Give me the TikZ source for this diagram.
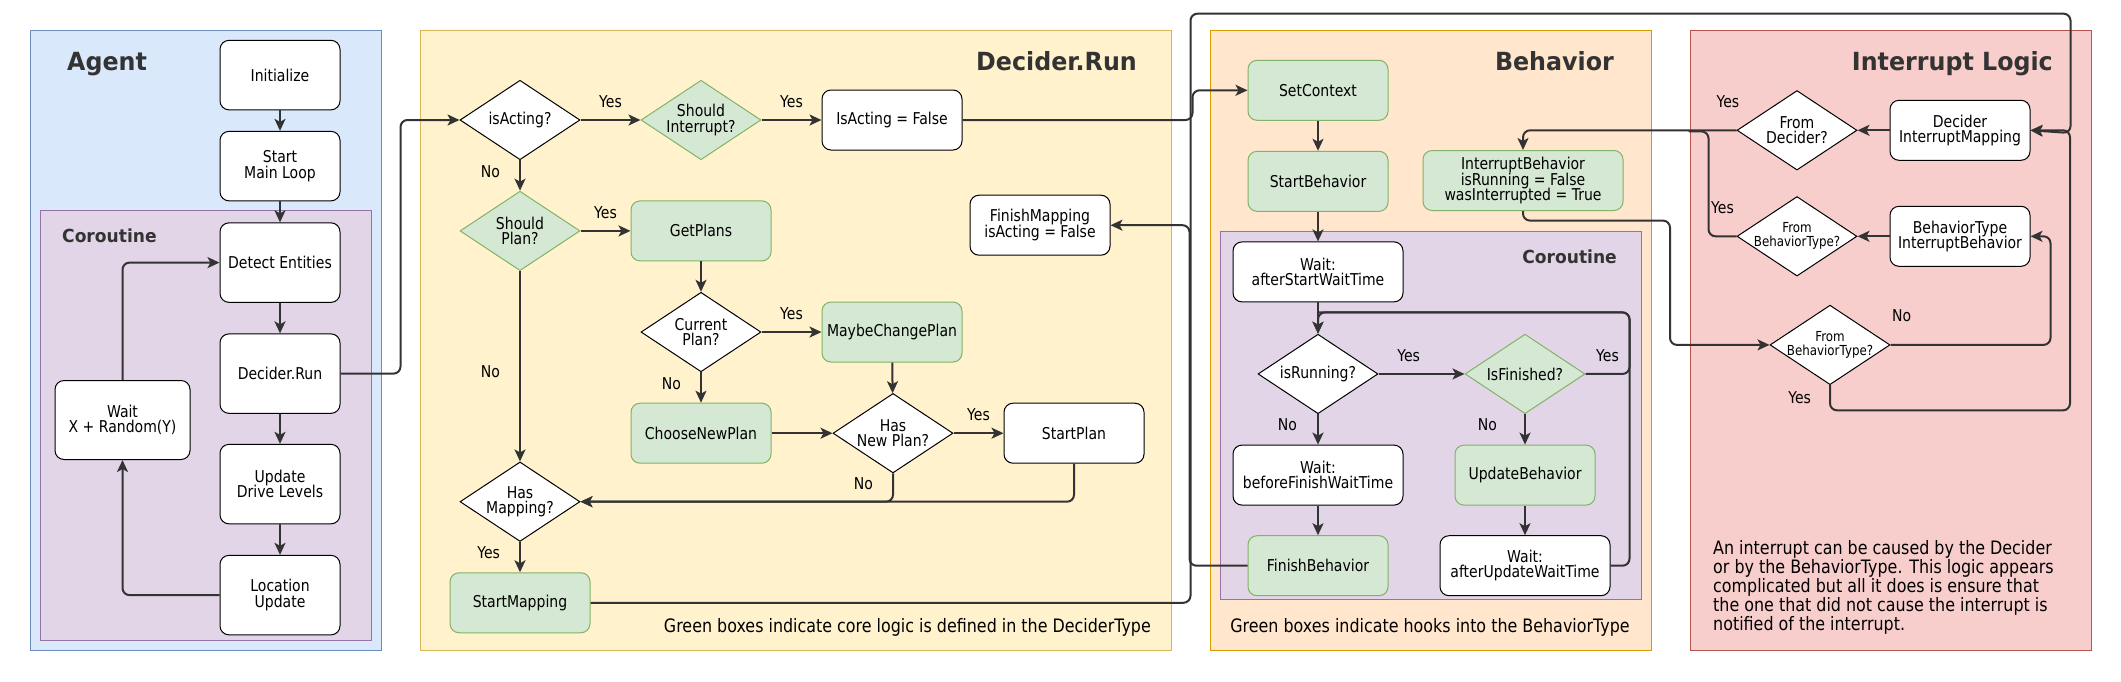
\documentclass[tikz,border=0pt]{standalone}
\usepackage{fontspec}
\setmainfont{DejaVu Sans}[FakeStretch=0.86]
\newfontfamily\headfont{DejaVu Sans}[FakeStretch=0.95]
\usepackage{tikz}
\usetikzlibrary{positioning,shapes.geometric,arrows.meta}
\definecolor{agentfill}{HTML}{DAE8FC}
\definecolor{agentline}{HTML}{6C8EBF}
\definecolor{corofill}{HTML}{E1D5E7}
\definecolor{coroline}{HTML}{9673A6}
\definecolor{decfill}{HTML}{FFF2CC}
\definecolor{decline}{HTML}{D6B656}
\definecolor{behfill}{HTML}{FFE6CC}
\definecolor{behline}{HTML}{D79B00}
\definecolor{intfill}{HTML}{F8CECC}
\definecolor{intline}{HTML}{B85450}
\definecolor{corefill}{HTML}{D5E8D4}
\definecolor{coreline}{HTML}{82B366}
\definecolor{ink}{HTML}{333333}
\setlength{\lineskiplimit}{-20pt}

\begin{document}
\begin{tikzpicture}[x=1pt, y=-1pt,
		every node/.style={font=\fontsize{16.3}{15.5}\selectfont},
		panel/.style={line width=1pt},
		box/.style={rectangle, draw=black, fill=white, line width=1pt, rounded corners=9pt, minimum width=140pt, minimum height=60pt, align=center},
		abox/.style={box, minimum width=120pt, minimum height=79.5pt},
		core/.style={box, draw=coreline, fill=corefill},
		test/.style={diamond, draw=black, fill=white, line width=1pt, shape aspect=1.5, inner sep=-2pt, minimum width=120pt, minimum height=79.5pt, align=center},
		coretest/.style={test, draw=coreline, fill=corefill},
		small/.style={font=\fontsize{13.8}{14}\selectfont},
		flow/.style={draw=ink, line width=2pt, rounded corners=7pt, -{Stealth[length=12pt, width=11pt, inset=3pt]}},
		wire/.style={draw=ink, line width=2pt, rounded corners=7pt},
		lbl/.style={inner sep=1pt},
		title/.style={font=\headfont\bfseries\fontsize{25}{25}\selectfont, text=ink, inner sep=0pt},
		subtitle/.style={font=\headfont\bfseries\fontsize{18}{18}\selectfont, text=ink, inner sep=0pt},
		note/.style={font=\fontsize{18.5}{19.1}\selectfont, inner sep=0pt, align=left}]
	\useasboundingbox (0,0) rectangle (2121,681);
	\draw[panel, draw=agentline, fill=agentfill] (30,30.4) rectangle (381,650);
	\draw[panel, draw=coroline, fill=corofill] (40,210.6) rectangle (371,640.6);
	\draw[panel, draw=decline, fill=decfill] (420,30.4) rectangle (1171,650);
	\draw[panel, draw=behline, fill=behfill] (1210,30.4) rectangle (1651,650);
	\draw[panel, draw=coroline, fill=corofill] (1220,231.5) rectangle (1641,599.3);
	\draw[panel, draw=intline, fill=intfill] (1690,30.4) rectangle (2091,650);

	\node[title, anchor=base west] (agentT) at (67,70) {Agent};
	\node[subtitle, anchor=base west] (coroA) at (62,242) {Coroutine};
	\node[title, anchor=base east] (decT) at (1137,70) {Decider.Run};
	\node[title, anchor=base east] (behT) at (1614,70) {Behavior};
	\node[subtitle, anchor=base east] (coroB) at (1617,263.7) {Coroutine};
	\node[title, anchor=base east] (intT) at (2053,70) {Interrupt Logic};

	\node[abox, minimum height=69.5pt] (init) at (280,75.1) {Initialize};
	\node[abox, minimum height=69.5pt, below=20.5pt of init] (mainloop) {Start\\Main Loop};
	\node[abox, below=21pt of mainloop] (detect) {Detect Entities};
	\node[abox, below=30.5pt of detect] (drun) {Decider.Run};
	\node[abox, below=30pt of drun] (drive) {Update\\Drive Levels};
	\node[abox, below=30.5pt of drive] (locupd) {Location\\Update};
	\node[abox, minimum width=135pt, minimum height=79pt] (wait) at (122.5,420) {Wait\\X + Random(Y)};

	\node[test] (isActing) at (520,120) {isActing?};
	\node[coretest, right=60pt of isActing] (shouldInt) {Should\\Interrupt?};
	\node[box, right=60pt of shouldInt] (isActF) {IsActing = False};
	\node[coretest, below=30.4pt of isActing] (shouldPlan) {Should\\Plan?};
	\node[core, right=50pt of shouldPlan] (getPlans) {GetPlans};
	\node[test, below=30.4pt of getPlans] (curPlan) {Current\\Plan?};
	\node[core, right=60pt of curPlan] (maybeChange) {MaybeChangePlan};
	\node[core, below=30.4pt of curPlan] (chooseNew) {ChooseNewPlan};
	\node[test, right=61pt of chooseNew] (hasNew) {Has\\New Plan?};
	\node[box, right=50pt of hasNew] (startPlan) {StartPlan};
	\node[test, below=190.3pt of shouldPlan] (hasMap) {Has\\Mapping?};
	\node[core, below=30.3pt of hasMap] (startMap) {StartMapping};
	\node[box] (finishMap) at (1040,225.2) {FinishMapping\\isActing = False};

	\node[core] (setCtx) at (1318,90.3) {SetContext};
	\node[core, below=30pt of setCtx] (startBeh) {StartBehavior};
	\node[core, minimum width=200pt] (intBeh) at (1523,180.5) {InterruptBehavior\\isRunning = False\\wasInterrupted = True};
	\node[box, minimum width=170pt, below=29.6pt of startBeh] (waitStart) {Wait:\\afterStartWaitTime};
	\node[test, below=31.3pt of waitStart] (isRun) {isRunning?};
	\node[coretest, right=86pt of isRun] (isFin) {IsFinished?};
	\node[box, minimum width=170pt, below=30.4pt of isRun] (waitBefore) {Wait:\\beforeFinishWaitTime};
	\node[core, below=29.6pt of waitBefore] (finBeh) {FinishBehavior};
	\node[core, below=30.4pt of isFin] (updBeh) {UpdateBehavior};
	\node[box, minimum width=170pt, below=29.6pt of updBeh] (waitUpd) {Wait:\\afterUpdateWaitTime};
	\coordinate[above=21.3pt of isRun.north] (back);

	\node[box] (decMap) at (1960,130.3) {Decider\\InterruptMapping};
	\node[test, left=32pt of decMap] (fromDec) {From\\Decider?};
	\node[box, below=45pt of decMap] (btInt) {BehaviorType\\InterruptBehavior};
	\node[test, small, left=32pt of btInt] (fromBT1) {From\\BehaviorType?};
	\node[test, small] (fromBT2) at (1830,344.9) {From\\BehaviorType?};

	\node[note, anchor=base east] (decNote) at (1151,632.8) {Green boxes indicate core logic is defined in the DeciderType};
	\node[note, anchor=base] (behNote) at (1430,632.8) {Green boxes indicate hooks into the BehaviorType};
	\node[note, anchor=north west] (intNote) at (1713,540) {An interrupt can be caused by the Decider\\or by the BehaviorType. This logic appears\\complicated but all it does is ensure that\\the one that did not cause the interrupt is\\notified of the interrupt.};

	\draw[flow] (init) -- (mainloop);
	\draw[flow] (mainloop) -- (detect);
	\draw[flow] (detect) -- (drun);
	\draw[flow] (drun) -- (drive);
	\draw[flow] (drive) -- (locupd);
	\draw[flow] (locupd.west) -| (wait.south);
	\draw[flow] (wait.north) |- (detect.west);
	\draw[flow] (drun.east) -- ++(60,0) |- (isActing.west);

	\draw[flow] (isActing) -- node[lbl, above=10.5pt] {Yes} (shouldInt);
	\draw[flow] (shouldInt) -- node[lbl, above=10.5pt] {Yes} (isActF);
	\draw[flow] (isActing) -- node[lbl, left=18pt, pos=0.36] {No} (shouldPlan);
	\draw[flow] (shouldPlan) -- node[lbl, above=10.5pt] {Yes} (getPlans);
	\draw[flow] (shouldPlan) -- node[lbl, left=18pt, pos=0.53] {No} (hasMap);
	\draw[flow] (getPlans) -- (curPlan);
	\draw[flow] (curPlan) -- node[lbl, above=10.5pt] {Yes} (maybeChange);
	\draw[flow] (curPlan) -- node[lbl, left=18pt, pos=0.36] {No} (chooseNew);
	\draw[flow] (maybeChange) -- (hasNew);
	\draw[flow] (chooseNew) -- (hasNew);
	\draw[flow] (hasNew) -- node[lbl, above=10.5pt] {Yes} (startPlan);
	\draw[flow] (hasNew.south) |- node[lbl, left=18pt, pos=0.18] {No} (hasMap.east);
	\draw[flow] (startPlan.south) |- (hasMap.east);
	\draw[flow] (hasMap) -- node[lbl, left=18pt, pos=0.36] {Yes} (startMap);
	\draw[flow] (startMap.east) -- ++(600,0) -- ++(0,-589.1) -| ++(880,119.4) -- (decMap.east);
	\draw[flow] (isActF.east) -- ++(230,0) |- (setCtx.west);
	\draw[flow] (finBeh.west) -- ++(-58,0) |- (finishMap.east);

	\draw[flow] (setCtx) -- (startBeh);
	\draw[flow] (startBeh) -- (waitStart);
	\draw[flow] (waitStart) -- (isRun);
	\draw[flow] (isRun) -- node[lbl, above=10.5pt, pos=0.35] {Yes} (isFin);
	\draw[flow] (isFin.east) -- node[lbl, above=10.5pt] {Yes} ++(44,0) |- (back) -- (isRun.north);
	\draw[wire] (waitUpd.east) -- ++(19,0) |- (back);
	\draw[flow] (isRun) -- node[lbl, left=19pt, pos=0.36] {No} (waitBefore);
	\draw[flow] (waitBefore) -- (finBeh);
	\draw[flow] (isFin) -- node[lbl, left=26pt, pos=0.36] {No} (updBeh);
	\draw[flow] (updBeh) -- (waitUpd);

	\draw[flow] (decMap) -- (fromDec);
	\draw[flow] (btInt) -- (fromBT1);
	\draw[flow] (fromDec.west) -| node[lbl, above=20.5pt, pos=0.02] {Yes} (intBeh.north);
	\draw[wire] (fromBT1.west) -- node[lbl, above=21pt] {Yes} ++(-28,0) |- ++(-20,-104.9);
	\draw[flow] (intBeh.south) -- ++(0,9.6) -- ++(147,0) |- (fromBT2.west);
	\draw[flow] (fromBT2.east) -- node[lbl, above=21pt, pos=0.07] {No} ++(160,0) |- (btInt.east);
	\draw[flow] (fromBT2.south) -- node[lbl, left=17pt] {Yes} ++(0,25.2) -- ++(240,0) |- (decMap.east);
\end{tikzpicture}
\end{document}
